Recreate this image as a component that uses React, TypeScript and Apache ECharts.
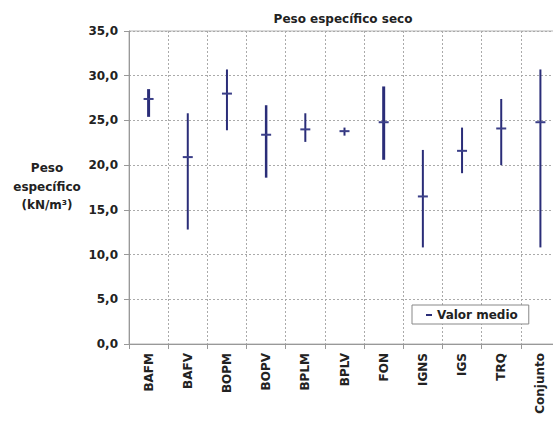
import React, { useEffect, useRef } from "react";
import * as echarts from "echarts";

const categories = ["BAFM", "BAFV", "BOPM", "BOPV", "BPLM", "BPLV", "FON", "IGNS", "IGS", "TRQ", "Conjunto"];
const minValues = [25.4, 12.8, 23.9, 18.6, 22.6, 23.3, 20.6, 10.8, 19.1, 20.0, 10.8];
const maxValues = [28.5, 25.8, 30.7, 26.7, 25.8, 24.2, 28.8, 21.7, 24.2, 27.4, 30.7];
const meanValues = [27.4, 20.9, 28.0, 23.4, 24.0, 23.8, 24.8, 16.5, 21.6, 24.1, 24.8];
const lineWidths = [3, 2, 2, 2.5, 2, 2, 3, 2, 2, 2, 2];
const yTicks = [0, 5, 10, 15, 20, 25, 30, 35];

const FONT = "DejaVu Sans, Verdana, sans-serif";
const NAVY = "#2a2d78";

export default function App() {
  const ref = useRef<HTMLDivElement>(null);
  useEffect(() => {
    if (!ref.current) return;
    const chart = echarts.init(ref.current, undefined, { renderer: "svg" });
    const data = categories.map((c, i) => [i, minValues[i], maxValues[i], meanValues[i], lineWidths[i]]);
    chart.setOption({
      animation: false,
      backgroundColor: "#ffffff",
      title: {
        text: "Peso específico seco",
        left: 338,
        textAlign: "center",
        top: 8,
        textStyle: { fontFamily: FONT, fontSize: 12, fontWeight: "bold", color: "#222" },
      },
      legend: {
        left: 412,
        top: 305,
        data: [{ name: "Valor medio", icon: "rect" }],
        itemWidth: 6,
        itemHeight: 2,
        itemGap: 4,
        padding: [4, 11, 3, 14],
        borderColor: "#888",
        borderWidth: 1,
        backgroundColor: "#fff",
        textStyle: { fontFamily: FONT, fontSize: 12, fontWeight: "bold", color: "#222" },
      },
      grid: {
        left: 129,
        top: 31,
        width: 431,
        height: 313,
        show: true,
        borderColor: "#b5b5b5",
        borderWidth: 1,
      },
      graphic: [
        {
          type: "text",
          x: 47,
          y: 159,
          style: {
            text: "Peso\nespecífico\n(kN/m³)",
            fontFamily: FONT,
            fontSize: 12,
            fontWeight: "bold",
            fill: "#222",
            align: "center",
            verticalAlign: "top",
            lineHeight: 18.5,
          },
        },
      ],
      xAxis: {
        type: "category",
        data: categories,
        boundaryGap: true,
        axisLine: { lineStyle: { color: "#999", width: 1 } },
        axisTick: { show: true, length: 5, lineStyle: { color: "#999" } },
        splitLine: { show: true, lineStyle: { color: "#aaa", type: [2, 2], width: 1 } },
        axisLabel: {
          rotate: 90,
          margin: 9,
          fontFamily: FONT,
          fontSize: 12,
          fontWeight: "bold",
          color: "#222",
        },
      },
      yAxis: {
        type: "value",
        min: yTicks[0],
        max: yTicks[yTicks.length - 1],
        interval: 5,
        axisLine: { show: true, lineStyle: { color: "#999" } },
        axisTick: { show: true, length: 5, lineStyle: { color: "#999" } },
        splitLine: { show: true, lineStyle: { color: "#aaa", type: [2, 2], width: 1 } },
        axisLabel: {
          margin: 11,
          fontFamily: FONT,
          fontSize: 12,
          fontWeight: "bold",
          color: "#222",
          formatter: (v: number) => v.toFixed(1).replace(".", ","),
        },
      },
      series: [
        {
          name: "Valor medio",
          type: "custom",
          itemStyle: { color: NAVY },
          data,
          encode: { x: 0, y: [1, 2, 3] },
          renderItem: (params: any, api: any) => {
            const idx = api.value(0);
            const lo = api.coord([idx, api.value(1)]);
            const hi = api.coord([idx, api.value(2)]);
            const mn = api.coord([idx, api.value(3)]);
            const w = api.value(4);
            return {
              type: "group",
              children: [
                {
                  type: "line",
                  shape: { x1: lo[0], y1: lo[1], x2: hi[0], y2: hi[1] },
                  style: { stroke: NAVY, lineWidth: w },
                },
                {
                  type: "line",
                  shape: { x1: mn[0] - 5, y1: mn[1], x2: mn[0] + 5, y2: mn[1] },
                  style: { stroke: "#3b3f88", lineWidth: 2 },
                },
              ],
            };
          },
        },
      ],
    });
    return () => chart.dispose();
  }, []);
  return (
    <div style={{ position: "fixed", left: 0, top: 0, width: 553, height: 426, overflow: "hidden", background: "#fff" }}>
      <div ref={ref} style={{ width: 580, height: 426 }} />
    </div>
  );
}
